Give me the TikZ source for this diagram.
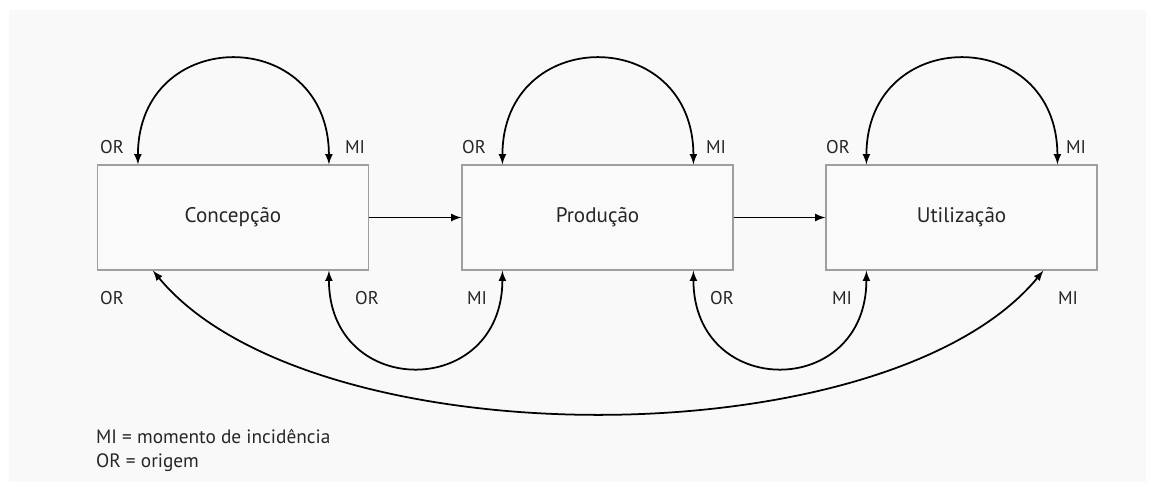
\documentclass[tikz,border=0pt]{standalone}
\usepackage{fontspec}
\setmainfont{PT Sans}
\usetikzlibrary{calc}
\usetikzlibrary{arrows}
\tikzstyle{caixa}  =[draw=gray!75, line width=0.7pt, fill=white!98!black, minimum width=5.42cm, minimum height=2.1cm, text=black!85, font=\fontsize{12}{14}\selectfont]
\tikzstyle{seta}   =[line width=1pt, >=latex]
\tikzstyle{rotulo} =[font=\fontsize{10.5}{12}\selectfont, text=black!85, inner sep=1pt]

\begin{document}
\begin{tikzpicture}[x=0.02cm,y=-0.02cm]

%fond et cadre
\useasboundingbox (0,0) rectangle (1153,491);
\fill[white!97.5!black] (9,10) rectangle (1146,482);

%%%%%%%%%%%%%%%%%%%%%%%%
%Les trois étapes
%%%%%%%%%%%%%%%%%%%%%%%%
\node[caixa] (conc) at (233,217.5) {Concepção};
\node[caixa] (prod) at (597.5,217.5) {Produção};
\node[caixa] (util) at (961.5,217.5) {Utilização};

%points d'attache des flèches (OR / MI)
\foreach \b in {conc,prod,util}{
  \coordinate (\b-no) at ($(\b.north west)+(41,0)$);
  \coordinate (\b-ne) at ($(\b.north west)+(232,0)$);
  \coordinate (\b-so) at ($(\b.south west)+(41,0)$);
  \coordinate (\b-se) at ($(\b.south west)+(232,0)$);
}
\coordinate (conc-long) at ($(conc.south west)+(56,0)$);
\coordinate (util-long) at ($(util.south west)+(218,0)$);

%%%%%%%%%%%%%%%%%%%%%%%%
%Flèches
%%%%%%%%%%%%%%%%%%%%%%%%
\draw[seta,->] (conc.east) -- (prod.west);
\draw[seta,->] (prod.east) -- (util.west);

%boucles du haut
\foreach \b in {conc,prod,util}{
  \draw[seta,<->] (\b-no) .. controls +(0,-140) and +(0,-140) .. (\b-ne);
}

%boucles du bas
\draw[seta,<->] (conc-se) .. controls +(0,129) and +(0,129) .. (prod-so);
\draw[seta,<->] (prod-se) .. controls +(0,129) and +(0,129) .. (util-so);

%grande boucle
\draw[seta,<->] (conc-long) .. controls +(157,190) and +(-157,190) .. (util-long);

%%%%%%%%%%%%%%%%%%%%%%%%
%Étiquettes
%%%%%%%%%%%%%%%%%%%%%%%%
\node[rotulo] (t1) at (112,147) {OR};
\node[rotulo] (t2) at (355,147) {MI};
\node[rotulo] (t3) at (474,147) {OR};
\node[rotulo] (t4) at (716,147) {MI};
\node[rotulo] (t5) at (838,147) {OR};
\node[rotulo] (t6) at (1076,147) {MI};

\node[rotulo] (b1) at (112,298) {OR};
\node[rotulo] (b2) at (367,298) {OR};
\node[rotulo] (b3) at (477,298) {MI};
\node[rotulo] (b4) at (722,298) {OR};
\node[rotulo] (b5) at (842,298) {MI};
\node[rotulo] (b6) at (1068,298) {MI};

%légende
\node[rotulo, anchor=north west, align=left, font=\fontsize{11}{14}\selectfont] (legenda) at (94,427)
  {MI = momento de incidência\\OR = origem};

\end{tikzpicture}
\end{document}
